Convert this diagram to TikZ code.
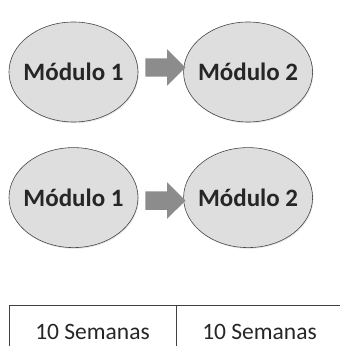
\documentclass[tikz,border=0pt]{standalone}
\usepackage{fontspec}
\setmainfont{Carlito}
\usepackage{tikz}
\usetikzlibrary{shapes,arrows,positioning,shadows,calc}
\definecolor{ballin}{RGB}{222, 222, 222}
\definecolor{ballmid}{RGB}{200, 200, 200}
\definecolor{ballout}{RGB}{145, 145, 145}
\definecolor{arrowgray}{RGB}{140, 140, 140}
\pgfdeclareradialshading{modshade}{\pgfpoint{0bp}{0bp}}{color(0bp)=(ballin); color(30bp)=(ballin); color(44bp)=(ballmid); color(50bp)=(ballout)}
\tikzstyle{modulo} = [ellipse, draw=gray!55!black, line width=0.6pt, shading=modshade, text=black!85, font=\bfseries\fontsize{25}{28}\selectfont, inner xsep=-12pt, inner ysep=0pt, minimum width=129pt, minimum height=100pt, drop shadow={opacity=0.2, shadow xshift=0.8pt, shadow yshift=-1.2pt}]
\tikzstyle{flecha} = [single arrow, fill=arrowgray, draw=none, inner xsep=0pt, inner ysep=9pt, minimum height=40pt, minimum width=36pt, single arrow head extend=9pt, single arrow head indent=0pt]
\tikzstyle{celda}  = [draw=black!75, line width=0.7pt]

\begin{document}
\begin{tikzpicture}[x=1pt, y=1pt]
\useasboundingbox (0,0) rectangle (340,346);

% modules ================================

% first row
\node[modulo] (m11) at (73.5,274) {Módulo 1};
\node[modulo, right=45pt of m11] (m12) {Módulo 2};

% second row
\node[modulo, below=25pt of m11] (m21) {Módulo 1};
\node[modulo, right=45pt of m21] (m22) {Módulo 2};

% arrows between modules
\node[flecha] (a1) at ([yshift=4.5pt]$(m11.east)!0.5!(m12.west)$) {};
\node[flecha] (a2) at ([yshift=-3pt]$(m21.east)!0.5!(m22.west)$) {};

% weeks table
\coordinate (t0) at (9,-5);
\coordinate (t1) at (176,41);
\coordinate (t2) at (343,41);
\draw[celda] (t0) |- (t2);
\draw[celda] (t1) -- (t1 |- t0);

\node[font=\fontsize{23.5}{26}\selectfont, text=black!85] (s1) at (92.5,14) {10 Semanas};
\node[font=\fontsize{23.5}{26}\selectfont, text=black!85] (s2) at (259.5,14) {10 Semanas};

\end{tikzpicture}
\end{document}
